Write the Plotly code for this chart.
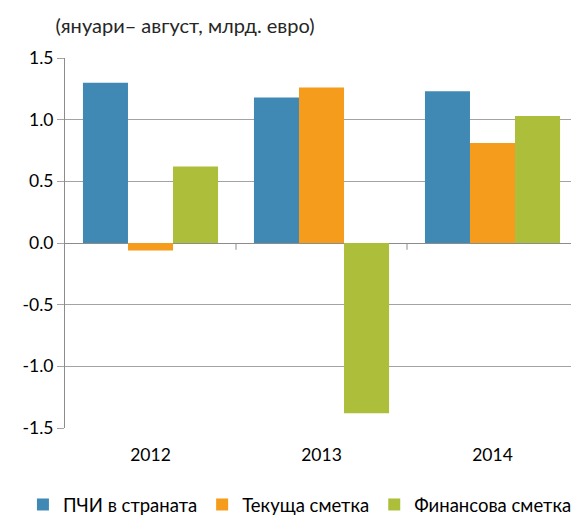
import plotly.graph_objects as go

years = ["2012", "2013", "2014"]
fdi = [1.30, 1.18, 1.23]
current = [-0.06, 1.26, 0.81]
financial = [0.62, -1.38, 1.03]

series_names = ["ПЧИ в страната", "Текуща сметка", "Финансова сметка"]
colors = ["#4189b5", "#f59c1d", "#adbe3a"]

y_ticks = [-1.5, -1.0, -0.5, 0.0, 0.5, 1.0, 1.5]
y_tick_labels = ["-1.5", "-1.0", "-0.5", "0.0", "0.5", "1.0", "1.5"]

title_text = "(януари– август, млрд. евро)"
font_family = "Lato, 'Open Sans', sans-serif"

fig = go.Figure()
for name, vals, col in zip(series_names, [fdi, current, financial], colors):
    fig.add_trace(go.Bar(x=years, y=vals, name=name, marker=dict(color=col, line=dict(width=0))))

# category boundary ticks on the zero line
for b in [0.5, 1.5]:
    fig.add_shape(type="line", xref="x", yref="y", x0=b, x1=b, y0=0, y1=-0.055,
                  line=dict(color="#8c8c8c", width=1))

fig.update_layout(
    width=571, height=509,
    margin=dict(l=57, r=1, t=50, b=89, autoexpand=False),
    paper_bgcolor="white", plot_bgcolor="white",
    barmode="group", bargap=0.21, bargroupgap=0,
    font=dict(family=font_family, size=17, color="#000000"),
    title=dict(text=title_text, x=0.31, xanchor="center", xref="container",
               y=0.965, yanchor="middle", yref="container",
               font=dict(family=font_family, size=20, color="#262626")),
    legend=dict(orientation="h", x=-0.082, xanchor="left", y=-0.208, yanchor="middle",
                font=dict(family=font_family, size=18.5, color="#000000"),
                itemwidth=30, traceorder="normal"),
    xaxis=dict(showgrid=False, showline=False, ticks="", tickfont=dict(size=17.5),
               ticklabelstandoff=14),
    yaxis=dict(range=[-1.5, 1.5], tickvals=y_ticks, ticktext=y_tick_labels,
               showgrid=True, gridcolor="#a3a3a3", gridwidth=1,
               zeroline=True, zerolinecolor="#8c8c8c", zerolinewidth=1,
               showline=True, linecolor="#8c8c8c", linewidth=1,
               ticks="outside", ticklen=7, tickcolor="#a3a3a3",
               tickfont=dict(size=17.5)),
)

fig.write_html("out.html")
